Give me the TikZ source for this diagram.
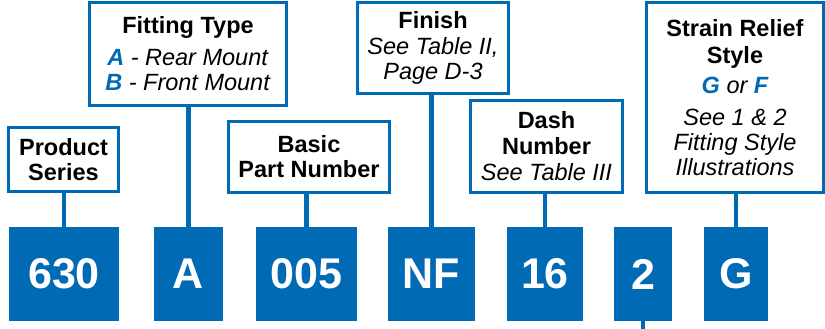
\documentclass[tikz,border=0pt]{standalone}
\usepackage{fontspec}
\setmainfont{Liberation Sans}
\definecolor{partblue}{RGB}{0,106,180}

\begin{document}
\begin{tikzpicture}[x=1pt,y=-1pt,
		codebox/.style={fill=partblue,text=white,minimum height=94pt,inner sep=0pt,font=\fontsize{43}{43}\selectfont\bfseries},
		tagbox/.style={draw=partblue,line width=3.3pt,fill=white,align=center,inner sep=0pt,font=\fontsize{23.5}{25}\selectfont},
		link/.style={draw=partblue,line width=4.5pt}]
		\useasboundingbox (0,0) rectangle (825,329);

		% code letters
		\node[codebox,minimum width=110pt] (series) at (64,274) {630};
		\node[codebox,minimum width=69pt] (fitting) at (188.5,274) {A};
		\node[codebox,minimum width=101pt] (basic) at (306.5,274) {005};
		\node[codebox,minimum width=87pt] (finish) at (431.5,274) {NF};
		\node[codebox,minimum width=76pt] (dash) at (545,274) {16};
		\node[codebox,minimum width=58pt] (two) at (643,274) {2};
		\node[codebox,minimum width=64pt] (style) at (736,274) {G};
		\coordinate (tail) at (643,329);

		% descriptions
		\node[tagbox,minimum width=110pt,minimum height=64pt] (tseries) at (63.5,159.5)
			{\textbf{Product}\\\textbf{Series}};
		\node[tagbox,minimum width=197pt,minimum height=103pt] (tfitting) at (188,54)
			{\textbf{Fitting Type}\\[7pt]\textit{\textbf{\textcolor{partblue}{A}} - Rear Mount}\\\textit{\textbf{\textcolor{partblue}{B}} - Front Mount}};
		\node[tagbox,minimum width=161pt,minimum height=71pt] (tbasic) at (309,157)
			{\textbf{Basic}\\\textbf{Part Number}};
		\node[tagbox,minimum width=151pt,minimum height=91pt] (tfinish) at (433,48)
			{\textbf{Finish}\\[1pt]\textit{See Table II,}\\\textit{Page D-3}};
		\node[tagbox,minimum width=152pt,minimum height=92pt] (tdash) at (546.5,146.5)
			{\textbf{Dash}\\[1pt]\textbf{Number}\\[1pt]\textit{See Table III}};
		\node[tagbox,minimum width=177pt,minimum height=190pt] (tstyle) at (735,97.5)
			{\textbf{Strain Relief}\\[2pt]\textbf{Style}\\[5pt]\textit{\textbf{\textcolor{partblue}{G}} or \textbf{\textcolor{partblue}{F}}}\\[7pt]\textit{See 1 \& 2}\\\textit{Fitting Style}\\\textit{Illustrations}};

		% connectors
		\draw[link] (series.north) -- (series.north |- tseries.south);
		\draw[link] (fitting.north) -- (fitting.north |- tfitting.south);
		\draw[link] (basic.north) -- (basic.north |- tbasic.south);
		\draw[link] (finish.north) -- (finish.north |- tfinish.south);
		\draw[link] (dash.north) -- (dash.north |- tdash.south);
		\draw[link] (style.north) -- (style.north |- tstyle.south);
		\draw[link] (two.south) -- (tail);
	\end{tikzpicture}
\end{document}
